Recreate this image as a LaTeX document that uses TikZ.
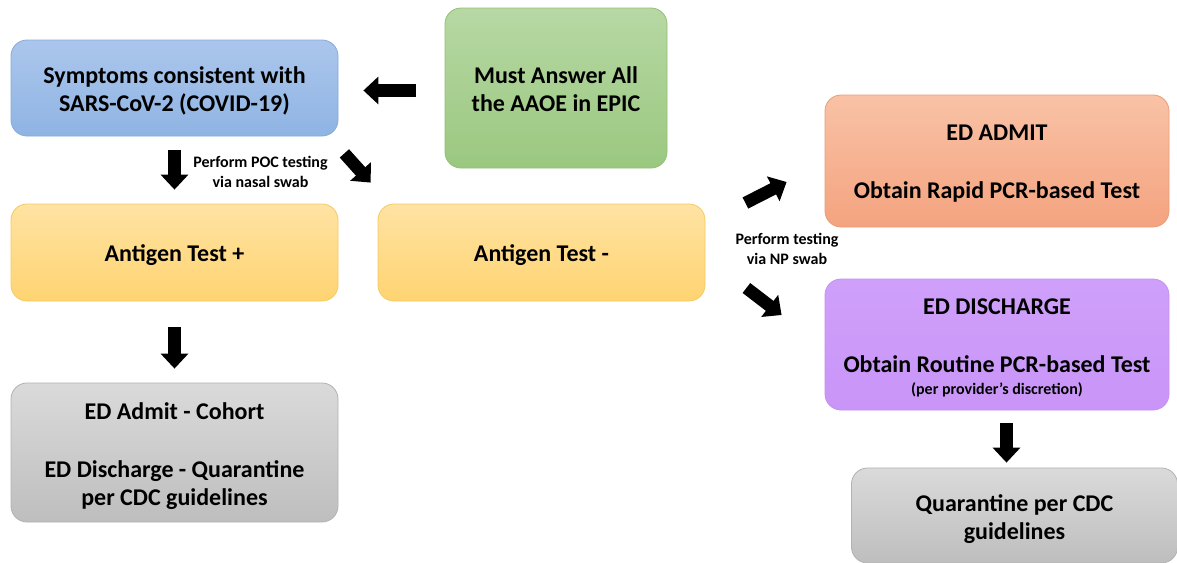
\documentclass[tikz,border=0pt]{standalone}
\usepackage{fontspec}
\setmainfont{Carlito}
\usetikzlibrary{arrows.meta}
\definecolor{blueT}{HTML}{ABC6EC}
\definecolor{blueB}{HTML}{8FB4E3}
\definecolor{blueD}{HTML}{86AADB}
\definecolor{greenT}{HTML}{B7D8A4}
\definecolor{greenB}{HTML}{9AC880}
\definecolor{greenD}{HTML}{90C074}
\definecolor{yelT}{HTML}{FFE3A3}
\definecolor{yelB}{HTML}{FFD471}
\definecolor{yelD}{HTML}{F5CA62}
\definecolor{orT}{HTML}{F9C2A6}
\definecolor{orB}{HTML}{F4A37F}
\definecolor{orD}{HTML}{EC9C78}
\definecolor{puT}{HTML}{CFA0FA}
\definecolor{puB}{HTML}{C995F8}
\definecolor{puD}{HTML}{C590F5}
\definecolor{grT}{HTML}{DADADA}
\definecolor{grB}{HTML}{BEBEBE}
\definecolor{grD}{HTML}{B2B2B2}
\tikzset{
  box/.style={rectangle, rounded corners=16pt, line width=0.8pt, inner sep=0pt},
  txt/.style={align=center, inner sep=0pt, text=black,
    font=\bfseries\fontsize{24}{28}\selectfont},
  bluebox/.style={box, draw=blueD, top color=blueT, bottom color=blueB},
  greenbox/.style={box, draw=greenD, top color=greenT, bottom color=greenB},
  yelbox/.style={box, draw=yelD, top color=yelT, bottom color=yelB},
  orbox/.style={box, draw=orD, top color=orT, bottom color=orB},
  pubox/.style={box, draw=puD, top color=puT, bottom color=puB},
  grbox/.style={box, draw=grD, top color=grT, bottom color=grB},
  blk/.style={line width=12.5pt, line cap=butt, draw=black,
    -{Triangle[length=15pt,width=27pt]}},
  small/.style={align=center, font=\bfseries\fontsize{16}{19.5}\selectfont, inner sep=0pt},
}
\begin{document}
\begin{tikzpicture}[x=1pt,y=-1pt]
\useasboundingbox (0,0) rectangle (1177,562);
\fill[white] (0,0) rectangle (1177,562);
% boxes
\node[bluebox, minimum width=327pt, minimum height=96pt] (blue) at (174.5,88) {};
\node[greenbox, minimum width=222pt, minimum height=160pt] (green) at (556,88) {};
\node[yelbox, minimum width=327pt, minimum height=97pt] (yl) at (174.5,252.5) {};
\node[yelbox, minimum width=327pt, minimum height=97pt] (yr) at (541.5,252.5) {};
\node[orbox, minimum width=344pt, minimum height=132pt] (or) at (997,161) {};
\node[pubox, minimum width=344pt, minimum height=131pt] (pu) at (997,344.5) {};
\node[grbox, minimum width=327pt, minimum height=139pt] (gl) at (174.5,452.5) {};
\node[grbox, minimum width=326pt, minimum height=95pt] (gr) at (1014.5,515.5) {};
% texts
\node[txt] (blue-t) at ([yshift=-3pt]blue.center) {Symptoms consistent with\\SARS-CoV-2 (COVID-19)};
\node[txt] (green-t) at ([yshift=-1pt]green.center) {Must Answer All\\the AAOE in EPIC};
\node[txt] (yl-t) at ([yshift=-3pt]yl.center) {Antigen Test +};
\node[txt] (yr-t) at ([yshift=-3pt]yr.center) {Antigen Test -};
\node[txt] (or-t) at ([yshift=-3pt]or.center) {ED ADMIT\\[30pt]Obtain Rapid PCR-based Test};
\node[txt] (pu-t) at ([yshift=-3.5pt]pu.center)
  {ED DISCHARGE\\[30pt]Obtain Routine PCR-based Test\\[-6pt]{\fontsize{16}{18}\selectfont (per provider’s discretion)}};
\node[txt] (gl-t) at ([yshift=-3.5pt]gl.center) {ED Admit - Cohort\\[30pt]ED Discharge - Quarantine\\per CDC guidelines};
\node[txt] (gr-t) at ([yshift=-4pt]gr.center) {Quarantine per CDC\\guidelines};
\node[small] (lab1) at (260.5,172) {Perform POC testing\\via nasal swab};
\node[small] (lab2) at (787,249) {Perform testing\\via NP swab};
% arrows
\draw[blk, shorten <=29pt, shorten >=25pt] ([yshift=-2.5pt]green.west) -- ([yshift=-2.5pt]blue.east);
\draw[blk, shorten <=14pt, shorten >=14pt] (blue.south) -- (yl.north);
\draw[blk] ([shift={(6,17)}]blue.south east) -- ([shift={(-7,-21)}]yr.north west);
\draw[blk] ([shift={(40,-49.5)}]yr.east) -- ([shift={(-38,21)}]or.west);
\draw[blk] ([shift={(41,35.5)}]yr.east) -- ([shift={(-43,-29.5)}]pu.west);
\draw[blk, shorten <=26pt, shorten >=14pt] (yl.south) -- (gl.north);
\draw[blk] ([shift={(9.5,13)}]pu.south) -- ([shift={(-8,-5)}]gr.north);
\end{tikzpicture}
\end{document}
